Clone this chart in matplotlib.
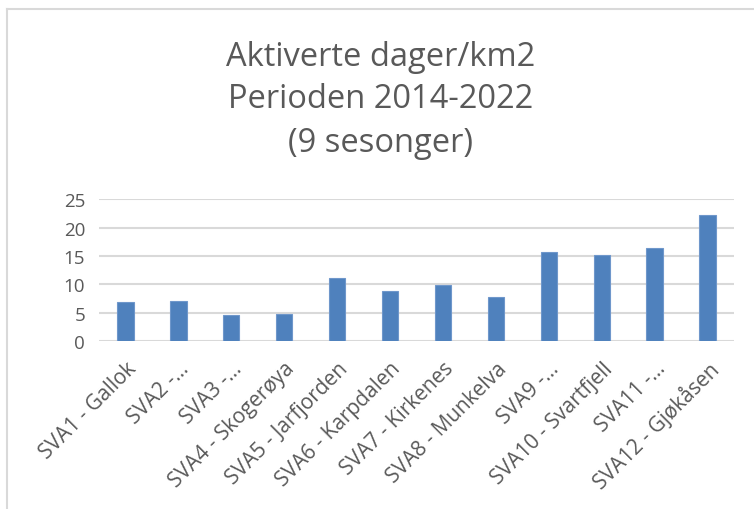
import matplotlib.pyplot as plt
import numpy as np

plt.rcParams['font.family'] = ['Open Sans', 'DejaVu Sans']

labels = ['SVA1 - Gallok', 'SVA2 -…', 'SVA3 -…', 'SVA4 - Skogerøya',
          'SVA5 - Jarfjorden', 'SVA6 - Karpdalen', 'SVA7 - Kirkenes',
          'SVA8 - Munkelva', 'SVA9 -…', 'SVA10 - Svartfjell', 'SVA11 -…',
          'SVA12 - Gjøkåsen']
values = [6.9, 7.0, 4.5, 4.8, 11.2, 8.8, 9.9, 7.8, 15.7, 15.1, 16.4, 22.3]
yticks = [0, 5, 10, 15, 20, 25]

text_col = '#595959'

fig = plt.figure(figsize=(7.54, 5.10), dpi=100)
ax = fig.add_axes([99 / 754, 1 - 342 / 510, 635 / 754, (342 - 200.3) / 510])

x = np.arange(len(labels))
ax.bar(x, values, width=0.31, color='#4f81bd', edgecolor='#6f97cb', linewidth=0.8, zorder=3)

ax.set_xlim(-0.5, len(labels) - 0.5)
ax.set_ylim(0, 25)
ax.set_yticks(yticks)
ax.set_yticklabels([str(t) for t in yticks])
ax.yaxis.grid(True, color='#d9d9d9', linewidth=1.5, zorder=0)
ax.set_axisbelow(True)
for s in ['top', 'right', 'left', 'bottom']:
    ax.spines[s].set_visible(False)
ax.tick_params(axis='y', length=0, pad=10, labelsize=13.5, labelcolor=text_col)
ax.tick_params(axis='x', length=0, pad=12, labelsize=15, labelcolor=text_col)
ax.set_xticks(x)
ax.set_xticklabels(labels, rotation=45, ha='right', rotation_mode='anchor')

fig.text(0.505, 1 - 57 / 510, 'Aktiverte dager/km2', ha='center', va='center',
         fontsize=23.5, color=text_col)
fig.text(0.505, 1 - 100 / 510, 'Perioden 2014-2022', ha='center', va='center',
         fontsize=23.5, color=text_col)
fig.text(0.505, 1 - 143 / 510, '(9 sesonger)', ha='center', va='center',
         fontsize=23.5, color=text_col)

# chart frame (only top and left edges visible)
fig.add_artist(plt.Line2D([7 / 754, 1], [1 - 10 / 510, 1 - 10 / 510], color='#d9d9d9', linewidth=1.5))
fig.add_artist(plt.Line2D([7 / 754, 7 / 754], [0, 1 - 10 / 510], color='#d9d9d9', linewidth=1.5))

fig.savefig('out.png', dpi=100)
